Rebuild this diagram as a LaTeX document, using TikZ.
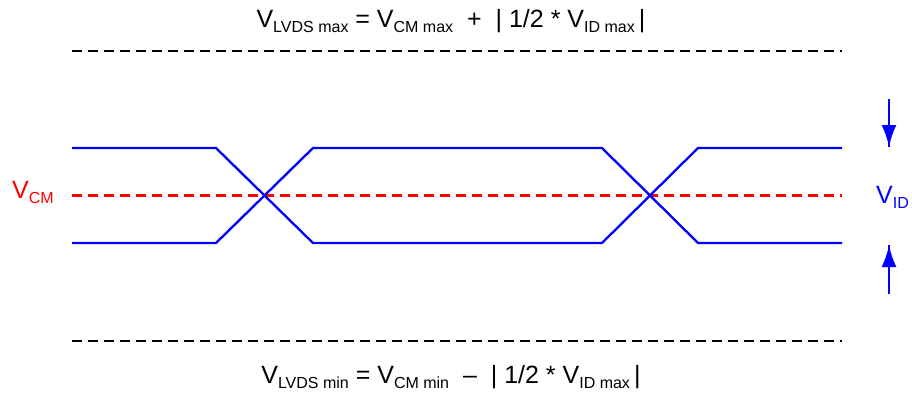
\documentclass[tikz,border=0pt]{standalone}
\usepackage{fontspec}
\setmainfont{Liberation Sans}
\usetikzlibrary{arrows.meta}
\usetikzlibrary{decorations.markings}
\tikzset{tip/.style = {decoration={markings,
                                   mark=at position 1 with {\arrow{Latex[length=22pt,width=15pt]}}},
                       postaction={decorate}}}
\tikzset{rail/.style = {line width=2.6pt, dash pattern=on 10pt off 6pt}}
\tikzset{wave/.style = {blue, line width=2.3pt}}
\tikzset{txt/.style = {font=\fontsize{25}{28}\selectfont, inner sep=0}}
\newcommand{\lowsub}[1]{\raisebox{-0.2em}{\fontsize{16}{16}\selectfont #1}}

\begin{document}
\begin{tikzpicture}[x=1pt, y=-1pt]
    \useasboundingbox (0,0) rectangle (912,392);
    \foreach \y in {51, 341} {
      \draw [rail] (72,\y) -- (842,\y);
    }
    \draw [rail, red, line width=2.4pt] (72,195.5) -- (842,195.5);
    \draw [wave] (72,148) -- (216,148) -- (313,243) -- (602,243) -- (698,148) -- (842,148);
    \draw [wave] (72,243) -- (216,243) -- (313,148) -- (602,148) -- (698,243) -- (842,243);
    \node [txt, anchor=base] (vmax) at (451,27)
      {V\lowsub{LVDS max} = V\lowsub{CM max}\ \ +\ \ | 1/2 * V\lowsub{ID max}\,|};
    \node [txt, anchor=base] (vmin) at (451,383)
      {V\lowsub{LVDS min} = V\lowsub{CM min}\ \ --\ \ | 1/2 * V\lowsub{ID max}\,|};
    \node [txt, red, anchor=base west] (vcm) at (12,198) {V\lowsub{CM}};
    \node [txt, blue, anchor=base west] (vid) at (876,203) {V\lowsub{ID}};
    \coordinate (dtop) at (889,99);
    \coordinate (dtip) at (889,147);
    \coordinate (ubot) at (889,294);
    \coordinate (utip) at (889,245);
    \draw [blue, line width=2.6pt, tip] (dtop) -- (dtip);
    \draw [blue, line width=2.6pt, tip] (ubot) -- (utip);
\end{tikzpicture}
\end{document}
